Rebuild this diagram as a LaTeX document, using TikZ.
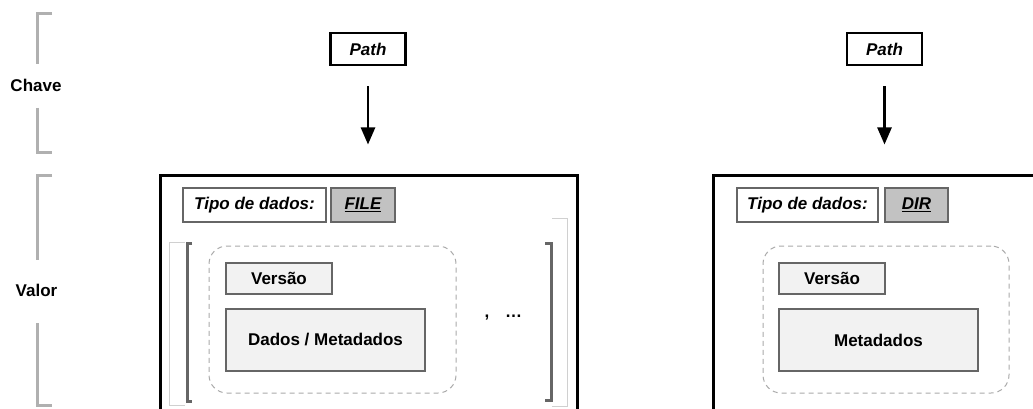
\documentclass[tikz,border=0pt]{standalone}
\usepackage{fontspec}
\setmainfont{Liberation Sans}
\usetikzlibrary{arrows.meta}
\definecolor{boxgray}{HTML}{666666}
\definecolor{lightfill}{HTML}{F2F2F2}
\definecolor{tagfill}{HTML}{C2C2C2}
\definecolor{bracegray}{HTML}{B0B0B0}
\definecolor{dashgray}{HTML}{AAAAAA}
\definecolor{thingray}{HTML}{D0D0D0}
\tikzset{
  txt/.style={font=\fontsize{17}{20}\selectfont\bfseries, text=black},
  pathbox/.style={txt, draw=black, line width=2.5pt, fill=white, minimum width=75pt, minimum height=32pt, inner sep=0pt, font=\fontsize{17}{20}\selectfont\bfseries\itshape},
  bigbox/.style={draw=black, line width=3pt, inner sep=0pt},
  tipobox/.style={txt, draw=boxgray, line width=2.5pt, fill=white, minimum height=34pt, inner sep=0pt, font=\fontsize{17}{20}\selectfont\bfseries\itshape},
  tagbox/.style={tipobox, fill=tagfill},
  innerbox/.style={txt, draw=boxgray, line width=2.5pt, fill=lightfill, inner sep=0pt},
  group/.style={draw=dashgray, line width=1pt, dash pattern=on 5pt off 4pt, rounded corners=18pt, inner sep=0pt},
  arr/.style={draw=black, line width=2.5pt, -{Triangle[length=17pt,width=14pt]}},
  sidebrace/.style={draw=bracegray, line width=3pt},
  darkbrace/.style={draw=boxgray, line width=3pt},
  thinrect/.style={draw=thingray, line width=0.8pt},
}
\begin{document}
\begin{tikzpicture}[x=1pt,y=-1pt]
\useasboundingbox (0,0) rectangle (1033,409);
\fill[white] (0,0) rectangle (1033,409);

% side labels and braces
\node[txt] (chave) at (36,85) {Chave};
\node[txt] (valor) at (36.5,290) {Valor};
\draw[sidebrace] (52,14) -- (37,14) -- (37,64);
\draw[sidebrace] (37,108) -- (37,152) -- (52,152);
\draw[sidebrace] (52,175) -- (37,175) -- (37,260);
\draw[sidebrace] (37,323) -- (37,405) -- (52,405);

\begin{scope}
\clip (0,0) rectangle (1033,409);
% big value boxes
\node[bigbox, minimum width=417pt, minimum height=265pt] (box1) at (368.5,307.5) {};
\node[bigbox, minimum width=344pt, minimum height=265pt] (box2) at (885,307.5) {};

% brackets around the list of versions
\draw[thinrect] (185,242) -- (169,242) -- (169,405) -- (185,405);
\draw[darkbrace] (192,243) -- (187,243) -- (187,401) -- (192,401);
\draw[thinrect] (552,218) -- (567,218) -- (567,406) -- (552,406);
\draw[darkbrace] (545,243) -- (551,243) -- (551,400) -- (545,400);
\end{scope}

% key boxes and arrows
\node[pathbox] (p1) at (368,49) {Path};
\node[pathbox] (p2) at (884.5,49) {Path};
\draw[arr, shorten <=20pt, shorten >=29pt] (p1.south) -- (p1.south |- box1.north);
\draw[arr, shorten <=20pt, shorten >=29pt] (p2.south) -- (p2.south |- box2.north);

% left value contents
\node[tipobox, minimum width=143pt] (tipo1) at (254.5,205) {Tipo de dados:};
\node[tagbox, minimum width=64pt] (file) at (363,205) {\underline{FILE}};
\node[group, minimum width=247pt, minimum height=147pt] (g1) at (332.5,319.5) {};
\node[innerbox, minimum width=106pt, minimum height=31pt] (v1) at (279,278.5) {Versão};
\node[innerbox, minimum width=199pt, minimum height=62pt] (d1) at (325.5,340) {Dados / Metadados};
\node[txt] (comma) at (487,318) {,};
\node[txt] (dots) at (513.5,316) {…};

% right value contents
\node[tipobox, minimum width=141pt] (tipo2) at (807.5,205) {Tipo de dados:};
\node[tagbox, minimum width=63pt] (dir) at (916.5,205) {\underline{DIR}};
\node[group, minimum width=246pt, minimum height=147pt] (g2) at (886,319.5) {};
\node[innerbox, minimum width=106pt, minimum height=31pt] (v2) at (832,278.5) {Versão};
\node[innerbox, minimum width=199pt, minimum height=62pt] (d2) at (878.5,340) {Metadados};
\end{tikzpicture}
\end{document}
